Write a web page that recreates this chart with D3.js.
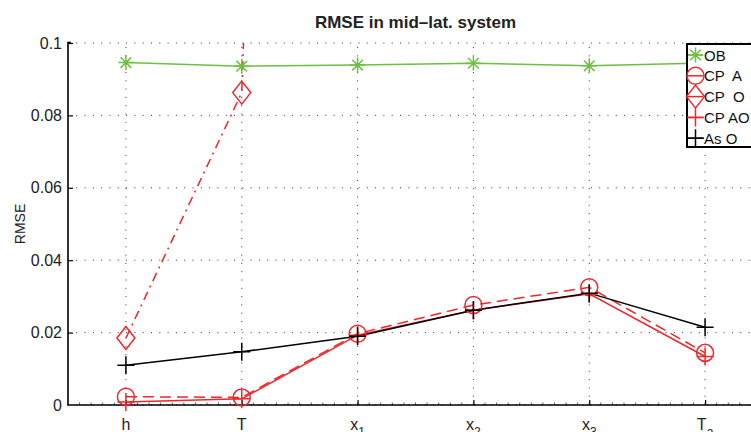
<!DOCTYPE html>
<html>
<head>
<meta charset="utf-8">
<script src="https://cdn.jsdelivr.net/npm/d3@7"></script>
<style>
  html, body { margin: 0; padding: 0; background: #fff; overflow: hidden; }
  svg { display: block; font-family: "Liberation Sans", Arial, Helvetica, sans-serif; }
</style>
</head>
<body>
<svg id="chart" width="751" height="432"></svg>
<script>
// Variables on the x axis (label text + optional subscript)
const categories = ["h", "T", "x1", "x2", "x3", "Ta"];
const catLabels = [["h", ""], ["T", ""], ["x", "1"], ["x", "2"], ["x", "3"], ["T", "a"]];

// RMSE per variable for each configuration
const obValues   = [0.0946, 0.0936, 0.0939, 0.0944, 0.0937, 0.0945];
const cpAValues  = [0.0023, 0.0021, 0.0197, 0.0276, 0.0325, 0.0144];
const cpOValues  = [0.0185, 0.0863, 1.0, null, null, null];
const cpAOValues = [0.0008, 0.0017, 0.0193, 0.0262, 0.0307, 0.0134];
const asOValues  = [0.0110, 0.0147, 0.0190, 0.0262, 0.0309, 0.0215];

const yTicks = [0, 0.02, 0.04, 0.06, 0.08, 0.1];
const yTickLabels = ["0", "0.02", "0.04", "0.06", "0.08", "0.1"];

const seriesNames = ["OB", "CP  A", "CP  O", "CP AO", "As O"];

const GREEN = "#6cc040", RED = "#f0262a", BLACK = "#000";

const series = [
  { name: seriesNames[0], values: obValues,   color: GREEN, dash: null,      marker: "asterisk" },
  { name: seriesNames[1], values: cpAValues,  color: RED,   dash: "11,6",    marker: "circle" },
  { name: seriesNames[2], values: cpOValues,  color: RED,   dash: "9,5,2,5", marker: "diamond" },
  { name: seriesNames[3], values: cpAOValues, color: RED,   dash: null,      marker: "plus" },
  { name: seriesNames[4], values: asOValues,  color: BLACK, dash: null,      marker: "plus" }
];

const svg = d3.select("#chart");
const plotL = 68, plotR = 763, plotT = 43, plotB = 405;

const x = d3.scaleLinear().domain([0.5, categories.length + 0.5]).range([plotL, plotR]);
const y = d3.scaleLinear().domain([0, 0.1]).range([plotB, plotT]);

svg.append("defs").append("clipPath").attr("id", "plotArea")
  .append("rect").attr("x", plotL).attr("y", plotT).attr("width", plotR - plotL).attr("height", plotB - plotT);

// Dotted grid
const grid = svg.append("g").attr("stroke", "#333").attr("stroke-width", 1).attr("stroke-dasharray", "1,7.3");
yTicks.forEach(t => {
  grid.append("line").attr("x1", plotL).attr("x2", plotR).attr("y1", y(t)).attr("y2", y(t));
});
categories.forEach((c, i) => {
  grid.append("line").attr("x1", x(i + 1)).attr("x2", x(i + 1)).attr("y1", plotB).attr("y2", plotT);
});

// Y axis
const yAxis = d3.axisLeft(y).tickValues(yTicks).tickSize(-5).tickPadding(6)
  .tickFormat((d, i) => yTickLabels[i]);
const gy = svg.append("g").attr("transform", `translate(${plotL},0)`).call(yAxis);
gy.select(".domain").attr("stroke", "#000").attr("stroke-width", 1.6)
  .attr("d", `M0,${plotB}V${plotT - 0.5}h3`);
gy.selectAll(".tick line").attr("stroke", "#000").attr("stroke-width", 1.2);
gy.selectAll(".tick text").attr("font-size", 16).attr("fill", "#222")
  .attr("font-family", "Liberation Sans, Arial, sans-serif");
gy.selectAll(".tick").filter(d => d === 0).select("line").remove();

// X axis with minor ticks
const minor = d3.range(5, categories.length * 10 + 6).map(v => v / 10);
const gxMinor = svg.append("g");
minor.forEach(v => {
  gxMinor.append("line").attr("x1", x(v)).attr("x2", x(v)).attr("y1", plotB).attr("y2", plotB - 2.5)
    .attr("stroke", "#333").attr("stroke-width", 0.8);
});
const xAxis = d3.axisBottom(x).tickValues(d3.range(1, categories.length + 1)).tickSize(-5).tickFormat("");
const gx = svg.append("g").attr("transform", `translate(0,${plotB})`).call(xAxis);
gx.select(".domain").attr("stroke", "#000").attr("stroke-width", 1.6).attr("d", `M${plotL - 0.8},0H${plotR}`);
gx.selectAll(".tick line").attr("stroke", "#000").attr("stroke-width", 1.2);

const xl = svg.append("g").attr("font-size", 16).attr("fill", "#222");
catLabels.forEach((lab, i) => {
  const t = xl.append("text").attr("x", x(i + 1)).attr("y", 430).attr("text-anchor", "middle");
  t.append("tspan").text(lab[0]);
  if (lab[1]) t.append("tspan").attr("dy", 6).attr("font-size", 12).text(lab[1]);
});

// Axis title and chart title
svg.append("text").attr("transform", `translate(25,${(plotT + plotB) / 2}) rotate(-90)`)
  .attr("text-anchor", "middle").attr("font-size", 14).attr("fill", "#222").text("RMSE");
svg.append("text").attr("x", (plotL + plotR) / 2).attr("y", 28).attr("text-anchor", "middle")
  .attr("font-size", 17).attr("font-weight", "bold").attr("fill", "#222").text("RMSE in mid\u2013lat. system");

// Marker drawing
function drawMarker(g, type, cx, cy, color) {
  const m = g.append("g").attr("transform", `translate(${cx},${cy})`)
    .attr("stroke", color).attr("fill", "none").attr("stroke-width", 1.5);
  if (type === "circle") m.append("circle").attr("r", 8.5);
  else if (type === "diamond") m.append("path").attr("d", "M0,-11.5L9,0L0,11.5L-9,0Z");
  else if (type === "plus") m.append("path").attr("d", "M-8.5,0H8.5M0,-9V9");
  else if (type === "asterisk") m.append("path").attr("d", "M-7.5,0H7.5M0,-7.5V7.5M-5.3,-5.3L5.3,5.3M-5.3,5.3L5.3,-5.3");
}

const line = d3.line().defined(d => d != null).x((d, i) => x(i + 1)).y(d => y(d));
const lines = svg.append("g").attr("clip-path", "url(#plotArea)");
series.forEach(s => {
  lines.append("path").datum(s.values).attr("d", line).attr("fill", "none")
    .attr("stroke", s.color).attr("stroke-width", 1.5)
    .attr("stroke-dasharray", s.dash);
});
const markers = svg.append("g");
series.forEach(s => {
  s.values.forEach((v, i) => {
    if (v == null || v > 0.1 || v < 0) return;
    drawMarker(markers, s.marker, x(i + 1), y(v), s.color);
  });
});

// Legend
const lg = svg.append("g");
lg.append("rect").attr("x", 687).attr("y", 44).attr("width", 120).attr("height", 103)
  .attr("fill", "#fff").attr("stroke", "#000").attr("stroke-width", 2);
series.forEach((s, i) => {
  const ly = 55 + i * 20.8;
  lg.append("line").attr("x1", 688).attr("x2", 703).attr("y1", ly).attr("y2", ly)
    .attr("stroke", s.color).attr("stroke-width", 1.5);
  drawMarker(lg, s.marker, 695.5, ly, s.color);
  lg.append("text").attr("x", 704).attr("y", ly + 5.5).attr("font-size", 15).attr("fill", "#111")
    .style("white-space", "pre").text(s.name);
});
</script>
</body>
</html>
